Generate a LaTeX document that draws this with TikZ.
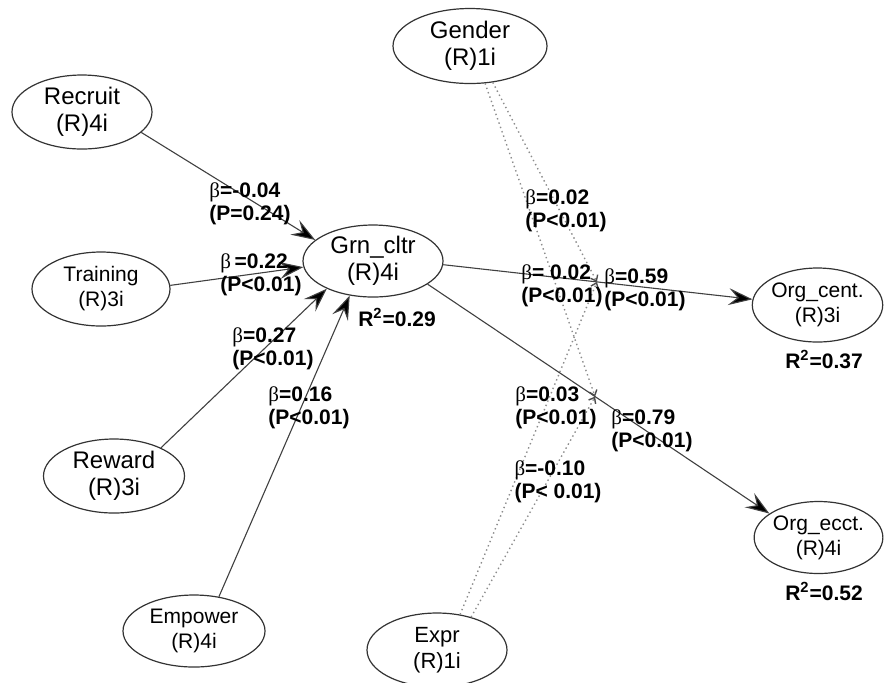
\documentclass[tikz,border=0pt]{standalone}
\usepackage{fontspec}
\setmainfont{Liberation Sans}
\newfontfamily\betafont{Liberation Serif}
\usetikzlibrary{arrows.meta,shapes.geometric}
\newcommand{\bt}{{\betafont\mdseries β}}
\begin{document}
\begin{tikzpicture}[x=0.5pt,y=-0.5pt,
  lv/.style={ellipse, draw=black!80, line width=0.6pt, inner sep=0pt, align=center},
  bigtxt/.style={font=\fontsize{12}{13.5}\selectfont},
  smalltxt/.style={font=\fontsize{10.5}{12.5}\selectfont},
  pth/.style={draw=black!75, line width=0.55pt, -{Stealth[length=12pt,width=8.5pt,inset=4.5pt,fill=black]}},
  modline/.style={draw=black!45, line width=0.7pt, dash pattern=on 0.7pt off 1.6pt, -{Straight Barb[length=2.5pt,width=4pt,black!70]}},
  lbl/.style={font=\bfseries\fontsize{10.5}{11.5}\selectfont, align=left, inner sep=0pt},
]
\useasboundingbox (0,0) rectangle (888,682);

% latent variables
\node[lv,bigtxt,minimum width=70pt,minimum height=37pt] (rec) at (82,112) {Recruit\\(R)4i};
\node[lv,smalltxt,minimum width=69pt,minimum height=37pt] (trn) at (101,289) {Training\\(R)3i};
\node[lv,bigtxt,minimum width=70pt,minimum height=36pt] (grn) at (373,261) {Grn\_cltr\\(R)4i};
\node[lv,bigtxt,minimum width=70.5pt,minimum height=37pt] (rew) at (114,476) {Reward\\(R)3i};
\node[lv,smalltxt,minimum width=71pt,minimum height=36pt] (emp) at (194,631) {Empower\\(R)4i};
\node[lv,font=\fontsize{12}{13.5}\selectfont,minimum width=77pt,minimum height=37.5pt] (gen) at (470,46) {Gender\\(R)1i};
\node[lv,font=\fontsize{11}{13}\selectfont,minimum width=70pt,minimum height=37pt] (exp) at (437,650) {Expr\\(R)1i};
\node[lv,smalltxt,minimum width=62.5pt,minimum height=37pt] (oc) at (817.5,305) {Org\_cent.\\(R)3i};
\node[lv,smalltxt,minimum width=62pt,minimum height=36pt] (oe) at (818.5,537.5) {Org\_ecct.\\(R)4i};

% structural paths
\draw[pth] (rec.-19) -- (grn.160);
\draw[pth] (trn.3) -- (grn.185);
\draw[pth] (rew.31) -- (grn.211);
\draw[pth] (emp.54) -- (grn.236);
\draw[pth] (grn.-3) -- (oc.175) coordinate[pos=0.497] (t1);
\draw[pth] (grn.-23) -- (oe.154) coordinate[pos=0.49] (t2);

% moderating paths
\draw[modline] (gen.-58) -- (t1);
\draw[modline] (gen.-68) -- (t2);
\draw[modline] (exp.57) -- (t1);
\draw[modline] (exp.44) -- (t2);

% path labels
\node[lbl] (l1) at (250,204) {\bt=-0.04\\(P=0.24)};
\node[lbl] (l2) at (261,275) {\bt\,=0.22\\(P<0.01)};
\node[lbl] (l3) at (273,349) {\bt=0.27\\(P<0.01)};
\node[lbl] (l4) at (309,408) {\bt=0.16\\(P<0.01)};
\node[lbl] (l5) at (566,211) {\bt=0.02\\(P<0.01)};
\node[lbl] (l6) at (562,286) {\bt= 0.02\\(P<0.01)};
\node[lbl] (l7) at (645,290) {\bt=0.59\\(P<0.01)};
\node[lbl] (l8) at (556,408) {\bt=0.03\\(P<0.01)};
\node[lbl] (l9) at (558,482) {\bt=-0.10\\(P< 0.01)};
\node[lbl] (l10) at (652,431) {\bt=0.79\\(P<0.01)};

% R squared
\node[lbl] (r1) at (397,317) {R\textsuperscript{2}=0.29};
\node[lbl] (r2) at (824,359) {R\textsuperscript{2}=0.37};
\node[lbl] (r3) at (824,591) {R\textsuperscript{2}=0.52};
\end{tikzpicture}
\end{document}
